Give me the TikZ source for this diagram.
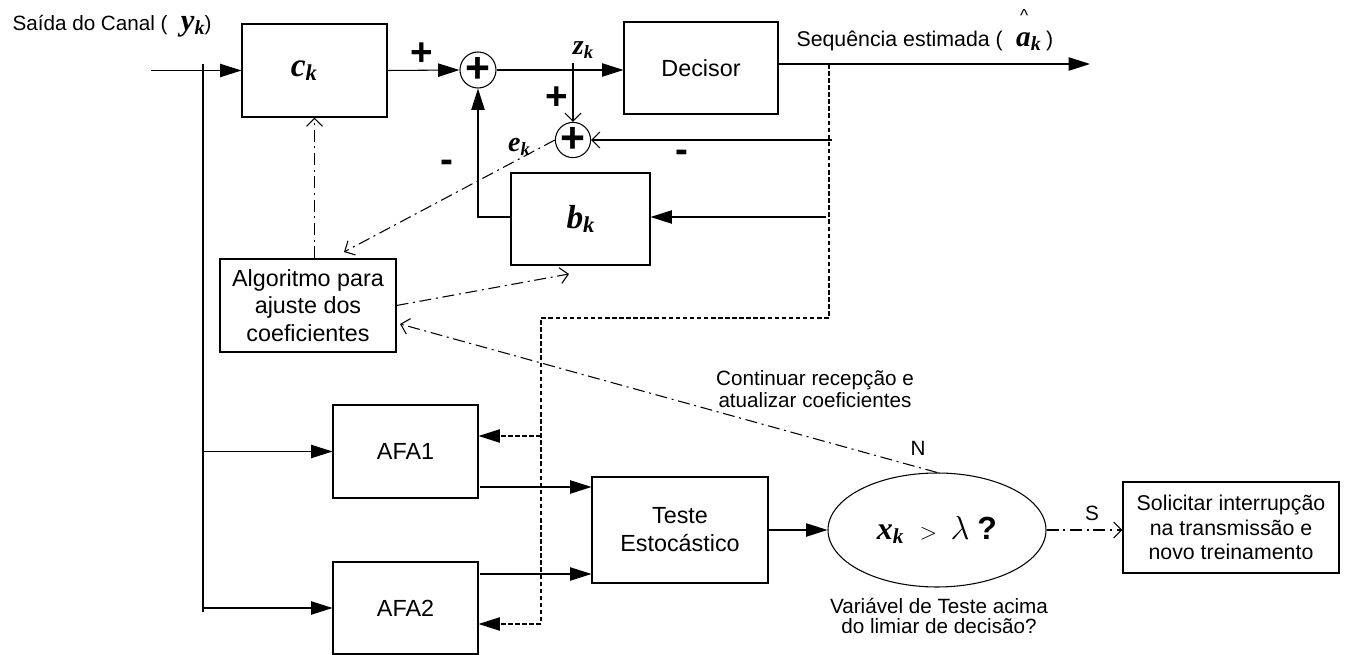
\documentclass[tikz,border=0pt]{standalone}
\usepackage{fontspec}
\setmainfont{Liberation Sans}
\newfontfamily\libserif{Liberation Serif}
\usetikzlibrary{arrows.meta,shapes.geometric}
\newcommand\fsz[1]{\fontsize{#1}{#1}\selectfont}
\newcommand\vsym[3]{{\libserif\bfseries\itshape\fsz{#2}#1\raisebox{-3pt}{\fsz{#3}k}}}
\newcommand\plussign{{\bfseries\fsz{32}+}}
\begin{document}
\begin{tikzpicture}[x=0.75pt,y=-0.75pt,line width=0.8pt,
  farrow/.style={-{Triangle[length=16pt,width=10pt]}},
  oarrow/.style={-{Straight Barb[length=6pt,width=12pt]}},
  ddot/.style={dash pattern=on 9pt off 3.5pt on 1.5pt off 3.5pt},
  dotl/.style={dash pattern=on 3.4pt off 1.9pt},
  box/.style={draw,rectangle,inner sep=0pt},
  wh/.style 2 args={minimum width=#1*0.75pt,minimum height=#2*0.75pt},
  sumc/.style={draw,circle,inner sep=0pt,minimum size=36*0.75pt},
  lbl/.style={inner sep=0pt},
  sign/.style={inner sep=0pt,font=\bfseries\fsz{29}},
]
\useasboundingbox (0,0) rectangle (1347,655);

% blocks
\node[box,wh={145}{93}] (ck) at (314.5,70.5) {\vsym{c}{25}{17}\kern16pt};
\node[sumc] (s1) at (478,70) {\plussign};
\node[box,wh={154}{92},font=\fsz{17.5}] (dec) at (701,68) {Decisor};
\node[sumc,minimum size=35*0.75pt] (s2) at (573,140) {\plussign};
\node[box,wh={139}{92}] (bk) at (580.5,219) {\vsym{b}{25}{17}};
\node[box,wh={176}{93},align=center,font=\fontsize{17.5}{20.5}\selectfont] (alg) at (308,305.5) {Algoritmo para\\ajuste dos\\coeficientes};
\node[box,wh={145}{93},font=\fsz{17.5}] (afa1) at (405.5,451.5) {AFA1};
\node[box,wh={145}{92},font=\fsz{17.5}] (afa2) at (405.5,608) {AFA2};
\node[box,wh={176}{106},align=center,font=\fontsize{17.5}{21}\selectfont] (teste) at (680,530) {Teste\\Estocástico};
\node[draw,ellipse,inner sep=0pt,minimum width=218*0.75pt,minimum height=114*0.75pt] (ell) at (937,530)
  {\vsym{x}{24}{16}\kern12pt{\fsz{17}$>$}\kern10pt{\fsz{34}$\lambda$}\kern6pt{\bfseries\fsz{24}?}};
\node[box,wh={216}{91},align=center,font=\fontsize{16}{18.5}\selectfont] (sol) at (1231,527.5) {Solicitar interrupção\\na transmissão e\\novo treinamento};

% coordinates for free ends
\coordinate (in) at (151,70.5);
\coordinate (bt) at (203,64);
\coordinate (bb) at (203,612);
\coordinate (zt) at (573,63);
\coordinate (oe) at (1090,64);
\coordinate (dt) at (829,64);
\coordinate (dc) at (829,318);
\coordinate (dl) at (541,318);
\coordinate (db) at (541,624);
\coordinate (d1) at (541,436);
\coordinate (r1) at (832,140);
\coordinate (r2) at (826,217);
\coordinate (a1) at (344,252);
\coordinate (a2) at (569,274);
\coordinate (a3) at (400,324);
\coordinate (t1) at (480,487);
\coordinate (t2) at (480,574);

% solid connectors
\draw[farrow] (in) -- (ck.west);
\draw (bt) -- (bb);
\draw[farrow] (bt |- afa1.west) -- (afa1.west);
\draw[farrow] (bt |- afa2.west) -- (afa2.west);
\draw[farrow] (ck.east) -- (s1.west);
\draw[farrow] (s1.east) -- (s1.east -| dec.west);
\draw[oarrow] (zt) -- (s2.north);
\draw[farrow] (oe -| dec.east) -- (oe);
\draw[oarrow] (r1) -- (s2.east);
\draw[farrow] (r2) -- (r2 -| bk.east);
\draw[farrow] (r2 -| bk.west) -| (s1.south);
\draw[farrow] (t1) -- (t1 -| teste.west);
\draw[farrow] (t2) -- (t2 -| teste.west);
\draw[farrow] (teste.east) -- (ell.west);

% dotted decision feedback
\draw[dotl] (dt) -- (dc) -- (dl) -- (db);
\draw[dotl,farrow] (d1) -- (d1 -| afa1.east);
\draw[dotl,farrow] (db) -- (db -| afa2.east);

% dash-dot control lines
\draw[ddot,oarrow] (s2.west) -- (a1);
\draw[ddot,oarrow] (ck.south |- alg.north) -- (ck.south);
\draw[ddot,oarrow] (alg.east) -- (a2);
\draw[ddot,oarrow] (ell.north) -- (a3);
\draw[ddot,oarrow] (ell.east) -- (ell.east -| sol.west);

% labels
\node[lbl,anchor=base west,font=\fsz{15.5}] (lin) at (12,31) {Saída do Canal (\kern10pt\vsym{y}{23}{15})};
\node[lbl,anchor=base west,font=\fsz{16}] (lout) at (796,47) {Sequência estimada (\kern10pt\rlap{\kern3pt\raisebox{19pt}{\fsz{13}\textasciicircum}}\vsym{a}{22}{15}\kern4pt)};
\node[sign] (p1) at (422,54) {+};
\node[sign] (p2) at (557,98) {+};
\node[sign] (m1) at (447,166) {-};
\node[sign] (m2) at (682,156) {-};
\node[lbl] (zk) at (583,50) {\vsym{z}{21}{14}};
\node[lbl] (ek) at (519,147) {\vsym{e}{21}{14}};
\node[lbl,align=center,font=\fontsize{15.5}{16.5}\selectfont] (cont) at (815,389) {Continuar recepção e\\atualizar coeficientes};
\node[lbl,font=\fsz{15.5}] (ln) at (918,448) {N};
\node[lbl,font=\fsz{15.5}] (ls) at (1092,513) {S};
\node[lbl,align=center,font=\fontsize{15.5}{15.5}\selectfont] (cap) at (939,616) {Variável de Teste acima\\do limiar de decisão?};
\end{tikzpicture}
\end{document}
